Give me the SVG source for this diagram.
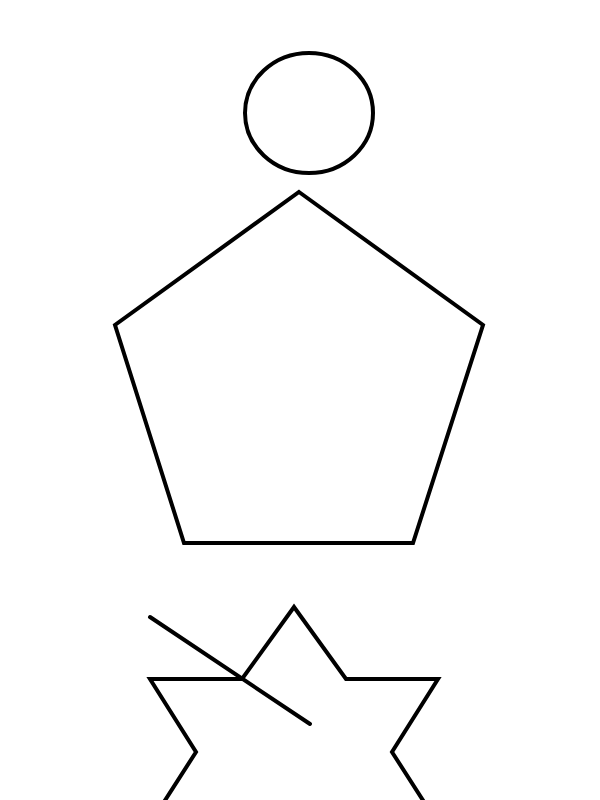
<svg xmlns="http://www.w3.org/2000/svg" width="600" height="800" viewBox="0 0 600 800">
<style>
.s{fill:none;stroke:#000;stroke-width:4;stroke-linejoin:miter}
</style>
<rect width="600" height="800" fill="#fff"/>
<g id="head"><ellipse class="s" cx="309" cy="113" rx="64" ry="60"/></g>
<g id="body"><polygon class="s" points="299,192 483,325 413,543 184,543 115,325"/></g>
<g id="star"><polyline class="s" points="146,830 196,752 150,679 242,679 294,607 346,679 438,679 392,752 442,830 146,830"/></g>
<g id="connectors"><line class="s" x1="150" y1="617" x2="310" y2="724" stroke-linecap="round"/></g>
</svg>
